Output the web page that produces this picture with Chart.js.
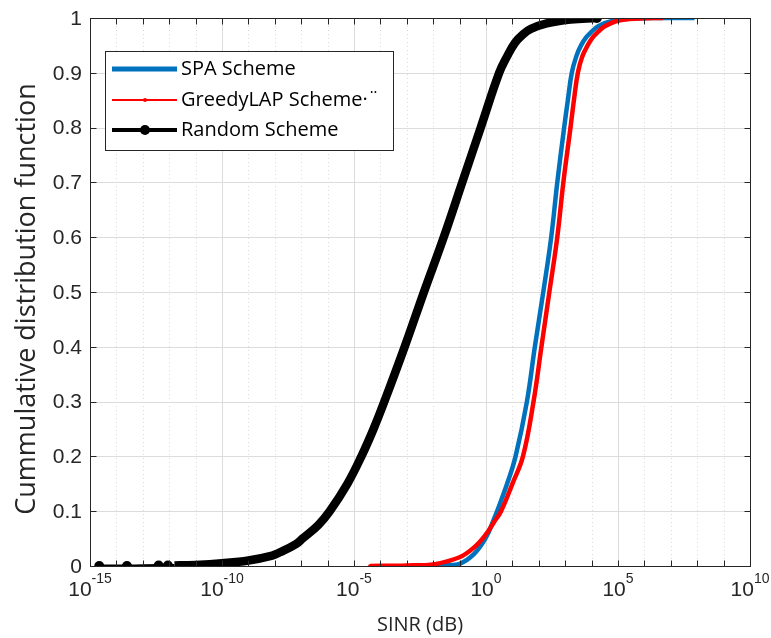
<!DOCTYPE html>
<html>
<head>
<meta charset="utf-8">
<script src="https://cdn.jsdelivr.net/npm/chart.js@4.4.0/dist/chart.umd.min.js"></script>
<style>
  html, body { margin: 0; padding: 0; background: #fff; }
  #wrap { width: 771px; height: 638px; }
</style>
</head>
<body>
<div id="wrap"><canvas id="cdfChart"></canvas></div>
<script>
// values: x given as log10(SINR), y as CDF
const spaExp = [-2.2, -1.5, -1, -0.45, 0, 0.32, 0.42, 0.8, 1.12, 1.55, 1.85, 2.17, 2.47, 2.7, 2.96, 3.1, 3.25, 3.42, 3.6, 3.8, 4.0, 4.25, 4.8, 5.6, 6.5, 7.9];
const spaCdf = [0, 0.002, 0.004, 0.022, 0.052, 0.088, 0.1, 0.15, 0.2, 0.3, 0.4, 0.5, 0.6, 0.7, 0.8, 0.85, 0.9, 0.93, 0.95, 0.965, 0.975, 0.985, 0.995, 0.999, 1, 1];

const greedyExp = [-4.4, -3.5, -3, -2, -1, -0.45, 0, 0.3, 0.57, 1.0, 1.4, 1.8, 2.1, 2.4, 2.7, 2.93, 3.2, 3.33, 3.48, 3.65, 3.85, 4.05, 4.25, 4.5, 5.0, 5.8, 6.7];
const greedyCdf = [0, 0.0005, 0.001, 0.003, 0.016, 0.034, 0.058, 0.08, 0.1, 0.15, 0.2, 0.3, 0.4, 0.5, 0.6, 0.7, 0.8, 0.85, 0.9, 0.93, 0.95, 0.965, 0.975, 0.985, 0.995, 0.999, 1];

const randomExp = [-14.65, -13.6, -12.4, -12.05, -11.8, -11, -10, -9, -8.1, -7.8, -7.2, -6.95, -6.35, -5.92, -5.25, -4.72, -4.26, -3.85, -3.08, -2.35, -1.6, -0.9, -0.2, 0.5, 0.8, 1.1, 1.4, 1.7, 2.3, 3.2, 4.2];
const randomCdf = [0, 0, 0.001, 0.001, 0.001, 0.002, 0.005, 0.01, 0.019, 0.025, 0.04, 0.05, 0.075, 0.1, 0.15, 0.2, 0.25, 0.3, 0.4, 0.5, 0.6, 0.7, 0.8, 0.9, 0.93, 0.955, 0.97, 0.98, 0.99, 0.997, 1];

const seriesNames = ['SPA Scheme', 'GreedyLAP Scheme\u00b7\u00a8', 'Random Scheme'];
const xTickExp = [-15, -10, -5, 0, 5, 10];
const yTicks = [0, 0.1, 0.2, 0.3, 0.4, 0.5, 0.6, 0.7, 0.8, 0.9, 1];
const yTickLabels = ['0', '0.1', '0.2', '0.3', '0.4', '0.5', '0.6', '0.7', '0.8', '0.9', '1'];
const xTitle = 'SINR (dB)';
const yTitle = 'Cummulative distribution function';

const toPoints = (exps, vals) => exps.map((e, i) => ({ x: Math.pow(10, e), y: vals[i] }));

const AXIS = '#262626';
const GRID = '#dcdcdc';

// grid, box, ticks and labels drawn MATLAB style
const matlabAxes = {
  id: 'matlabAxes',
  beforeDatasetsDraw(chart) {
    const { ctx, chartArea: a, scales: { x, y } } = chart;
    ctx.save();
    ctx.lineWidth = 1;
    ctx.strokeStyle = GRID;
    const lo = xTickExp[0], hi = xTickExp[xTickExp.length - 1];
    for (let e = lo + 1; e < hi; e++) {
      const px = Math.round(x.getPixelForValue(Math.pow(10, e))) + 0.5;
      ctx.setLineDash(xTickExp.includes(e) ? [] : [1, 3]);
      ctx.beginPath();
      ctx.moveTo(px, a.top);
      ctx.lineTo(px, a.bottom);
      ctx.stroke();
    }
    ctx.setLineDash([]);
    yTicks.slice(1, -1).forEach(v => {
      const py = Math.round(y.getPixelForValue(v)) + 0.5;
      ctx.beginPath();
      ctx.moveTo(a.left, py);
      ctx.lineTo(a.right, py);
      ctx.stroke();
    });
    ctx.restore();
  },
  afterDatasetsDraw(chart) {
    const { ctx, chartArea: a, scales: { x, y } } = chart;
    ctx.save();
    ctx.strokeStyle = AXIS;
    ctx.lineWidth = 1;
    const L = Math.round(a.left) + 0.5, R = Math.round(a.right) + 0.5;
    const T = Math.round(a.top) + 0.5, B = Math.round(a.bottom) + 0.5;
    ctx.strokeRect(L, T, R - L, B - T);

    // inner tick marks
    const tk = 6;
    const lo = xTickExp[0], hi = xTickExp[xTickExp.length - 1];
    ctx.beginPath();
    for (let e = lo; e <= hi; e++) {
      const px = Math.round(x.getPixelForValue(Math.pow(10, e))) + 0.5;
      ctx.moveTo(px, B); ctx.lineTo(px, B - tk);
      ctx.moveTo(px, T); ctx.lineTo(px, T + tk);
    }
    yTicks.forEach(v => {
      const py = Math.round(y.getPixelForValue(v)) + 0.5;
      ctx.moveTo(L, py); ctx.lineTo(L + tk, py);
      ctx.moveTo(R, py); ctx.lineTo(R - tk, py);
    });
    ctx.stroke();

    // x tick labels 10^n
    ctx.fillStyle = AXIS;
    ctx.textBaseline = 'alphabetic';
    ctx.textAlign = 'left';
    xTickExp.forEach(e => {
      const px = x.getPixelForValue(Math.pow(10, e));
      ctx.font = '21px "Liberation Sans", Arial, sans-serif';
      const wb = ctx.measureText('10').width;
      ctx.font = '14px "Liberation Sans", Arial, sans-serif';
      const ws = ctx.measureText(String(e)).width;
      const left = px - (wb + ws) / 2;
      ctx.font = '21px "Liberation Sans", Arial, sans-serif';
      ctx.fillText('10', left, 596);
      ctx.font = '14px "Liberation Sans", Arial, sans-serif';
      ctx.fillText(String(e), left + wb, 583);
    });

    // y tick labels
    ctx.font = '21px "Liberation Sans", Arial, sans-serif';
    ctx.textAlign = 'right';
    ctx.textBaseline = 'middle';
    yTicks.forEach((v, i) => {
      ctx.fillText(yTickLabels[i], a.left - 8, y.getPixelForValue(v) + 1);
    });

    // axis titles
    ctx.textAlign = 'center';
    ctx.font = '20px "Open Sans", sans-serif';
    ctx.fillText(xTitle, (a.left + a.right) / 2, 625);
    ctx.save();
    ctx.translate(27, 299);
    ctx.rotate(-Math.PI / 2);
    ctx.font = '27px "Open Sans", sans-serif';
    ctx.fillText(yTitle, 0, 0);
    ctx.restore();

    // legend box
    const bx = 105.5, by = 51.5, bw = 288, bh = 99;
    ctx.fillStyle = '#fff';
    ctx.fillRect(bx, by, bw, bh);
    ctx.strokeStyle = AXIS;
    ctx.strokeRect(bx, by, bw, bh);
    const rows = [69, 100, 130];
    ctx.textAlign = 'left';
    ctx.font = '20px "Open Sans", sans-serif';
    chart.data.datasets.forEach((ds, i) => {
      const ly = rows[i];
      ctx.strokeStyle = ds.borderColor;
      ctx.lineWidth = ds.legendWidth;
      ctx.beginPath();
      ctx.moveTo(112, ly); ctx.lineTo(177, ly);
      ctx.stroke();
      if (ds.legendDot) {
        ctx.fillStyle = ds.borderColor;
        ctx.beginPath();
        ctx.arc(145, ly, ds.legendDot, 0, Math.PI * 2);
        ctx.fill();
      }
      ctx.fillStyle = '#000';
      ctx.fillText(ds.label, 181, ly);
    });
    ctx.restore();
  }
};

const randomRadius = randomExp.map((e, i) => (e < -11.9 || i === randomExp.length - 1 ? 5 : 0));

const chart = new Chart(document.getElementById('cdfChart').getContext('2d'), {
  type: 'line',
  data: {
    datasets: [
      {
        label: seriesNames[0],
        data: toPoints(spaExp, spaCdf),
        borderColor: '#0072BD',
        borderWidth: 4.5,
        pointRadius: 0,
        tension: 0.4,
        order: 2,
        legendWidth: 5,
      },
      {
        label: seriesNames[1],
        data: toPoints(greedyExp, greedyCdf),
        borderColor: '#FF0000',
        backgroundColor: '#FF0000',
        borderWidth: 4.5,
        pointRadius: 1.8,
        pointBorderWidth: 0,
        tension: 0.4,
        order: 1,
        legendWidth: 2,
        legendDot: 2,
      },
      {
        label: seriesNames[2],
        data: toPoints(randomExp, randomCdf),
        borderColor: '#000000',
        backgroundColor: '#000000',
        borderWidth: 8,
        pointRadius: randomRadius,
        pointBorderWidth: 0,
        tension: 0.4,
        segment: {
          borderWidth: c => (c.p0.parsed.x < Math.pow(10, -11.9) ? 3 : 8.5),
        },
        order: 3,
        legendWidth: 4,
        legendDot: 5,
      },
    ],
  },
  options: {
    responsive: true,
    maintainAspectRatio: false,
    animation: false,
    layout: { padding: { left: 90, right: 21, top: 18, bottom: 72 } },
    plugins: { legend: { display: false }, tooltip: { enabled: false } },
    scales: {
      x: { type: 'logarithmic', min: 1e-15, max: 1e10, display: false },
      y: { type: 'linear', min: 0, max: 1, display: false },
    },
  },
  plugins: [matlabAxes],
});
</script>
</body>
</html>
